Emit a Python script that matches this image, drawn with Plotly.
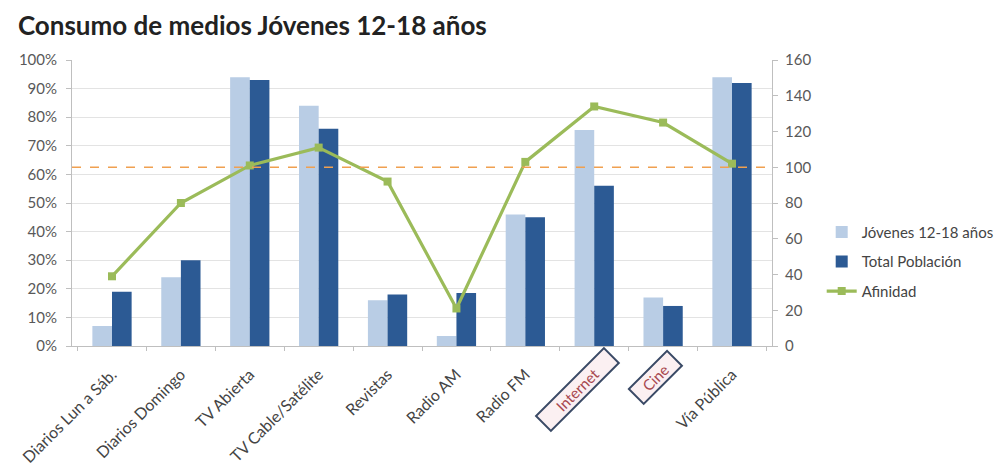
import plotly.graph_objects as go

# Media consumption, youth 12-18 vs total population, with affinity index
categorias = ["Diarios Lun a Sáb.", "Diarios Domingo", "TV Abierta", "TV Cable/Satélite",
              "Revistas", "Radio AM", "Radio FM", "Internet", "Cine", "Vía Pública"]
jovenes = [7, 24, 94, 84, 16, 3.5, 46, 75.5, 17, 94]          # %
total_poblacion = [19, 30, 93, 76, 18, 18.5, 45, 56, 14, 92]   # %
afinidad = [39, 80, 101, 111, 92, 21, 103, 134, 125, 102]      # index
afinidad_base = 100
destacados = ["Internet", "Cine"]

pct_ticks = list(range(0, 101, 10))
idx_ticks = list(range(0, 161, 20))

FONT = "Lato, 'Open Sans', sans-serif"
LIGHT = "#b9cde5"
DARK = "#2c5a94"
GREEN = "#9bbb59"
AXIS = "#bfbfbf"

fig = go.Figure()
fig.add_trace(go.Bar(x=categorias, y=jovenes, name="Jóvenes 12-18 años",
                     marker=dict(color=LIGHT, line=dict(width=0)), legendgroup="a"))
fig.add_trace(go.Bar(x=categorias, y=total_poblacion, name="Total Población",
                     marker=dict(color=DARK, line=dict(width=0)), legendgroup="b"))
fig.add_trace(go.Scatter(x=categorias, y=afinidad, name="Afinidad", yaxis="y2",
                         mode="lines+markers", legendgroup="c",
                         line=dict(color=GREEN, width=3.2),
                         marker=dict(symbol="square", size=8, color=GREEN)))

# affinity reference line at 100
fig.add_shape(type="line", xref="paper", x0=0, x1=1, yref="y2",
              y0=afinidad_base, y1=afinidad_base,
              line=dict(color="#f0a050", width=1.5, dash="dash"))

ticktext = [("" if c in destacados else c) for c in categorias]

# highlighted category labels drawn as framed, rotated boxes
box_style = {
    "Internet": dict(xshift=-17, yshift=-43, width=92),
    "Cine": dict(xshift=-8, yshift=-31, width=50),
}
for c in destacados:
    st = box_style[c]
    fig.add_annotation(x=c, xref="x", y=0, yref="paper", yanchor="middle", xanchor="center",
                       xshift=st["xshift"], yshift=st["yshift"], width=st["width"], height=17,
                       align="center", valign="middle",
                       text=c, textangle=-45, showarrow=False,
                       font=dict(family=FONT, size=15, color="#a8484f"),
                       bgcolor="#fbf0f2", bordercolor="#3a4a66", borderwidth=2, borderpad=1)

fig.update_layout(
    width=994, height=466,
    margin=dict(l=72, r=222, t=60, b=120, autoexpand=False),
    paper_bgcolor="white", plot_bgcolor="white",
    font=dict(family=FONT, size=14, color="#595959"),
    title=dict(text="<b>Consumo de medios Jóvenes 12-18 años</b>",
               x=0.018, xanchor="left", y=0.965, yanchor="top",
               font=dict(family=FONT, size=26, color="#222222")),
    barmode="group", bargap=0.43, bargroupgap=0,
    showlegend=True,
    legend=dict(x=1.071, xanchor="left", y=0.455, yanchor="top",
                font=dict(family=FONT, size=15, color="#444444"),
                tracegroupgap=7, bgcolor="rgba(0,0,0,0)"),
    xaxis=dict(type="category", tickmode="array", tickvals=categorias, ticktext=ticktext,
               tickangle=-45, tickson="boundaries", ticks="outside", ticklen=4,
               tickcolor=AXIS, showline=True, linecolor=AXIS, automargin=False,
               ticklabelstandoff=12,
               tickfont=dict(family=FONT, size=16, color="#444444")),
    yaxis=dict(range=[0, 100], tickvals=pct_ticks, ticktext=[f"{v}%" for v in pct_ticks],
               showgrid=True, gridcolor="#e3e3e3", showline=True, linecolor=AXIS,
               ticks="outside", ticklen=5, tickcolor=AXIS, zeroline=False, automargin=False,
               ticklabelstandoff=6, tickfont=dict(size=15)),
    yaxis2=dict(range=[0, 160], tickvals=idx_ticks, overlaying="y", side="right",
                showgrid=False, showline=True, linecolor=AXIS, automargin=False,
                ticks="outside", ticklen=5, tickcolor=AXIS, zeroline=False,
                ticklabelstandoff=4, tickfont=dict(size=15)),
)

fig.write_html("out.html")
